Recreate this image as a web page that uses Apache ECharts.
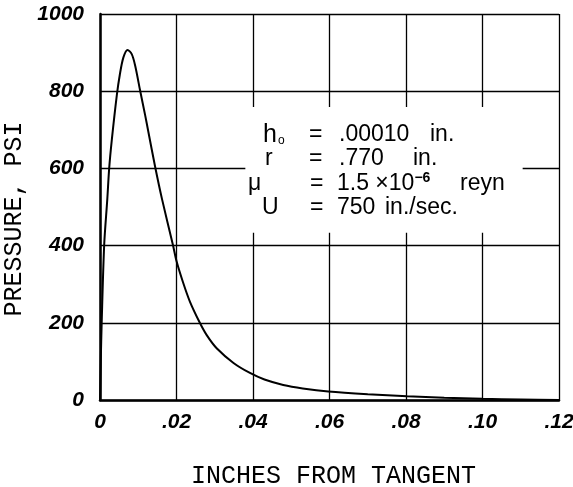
<!DOCTYPE html>
<html>
<head>
<meta charset="utf-8">
<script src="https://cdn.jsdelivr.net/npm/echarts@6/dist/echarts.min.js"></script>
<style>
html,body{margin:0;padding:0;background:#fff;}
#chart{width:573px;height:487px;}
</style>
</head>
<body>
<div id="chart"></div>
<script>
// Distance from tangent (inches)
var inches = [0, 0.0002, 0.00044, 0.0011, 0.0019, 0.0024, 0.0031, 0.0044, 0.0052, 0.0061, 0.0072,
  0.0083, 0.0092, 0.0105, 0.0118, 0.0126, 0.0144, 0.0162, 0.0191, 0.0200, 0.0217, 0.0235,
  0.0261, 0.0279, 0.0305, 0.0349, 0.0392, 0.0430, 0.0479, 0.0530, 0.0597, 0.0700, 0.0803,
  0.0900, 0.1000, 0.1100, 0.1200];
// Pressure (psi)
var pressure = [0, 100, 200, 403, 519, 600, 675, 790, 844, 887, 907,
  896, 866, 801, 738, 697, 605, 521, 400, 360, 305, 255,
  200, 168, 134, 96, 70, 53, 39, 30, 22, 15, 10,
  6, 3, 1.5, 0];
var xTicks = [0, 0.02, 0.04, 0.06, 0.08, 0.10, 0.12];
var yTicks = [0, 200, 400, 600, 800, 1000];
var xTitle = 'INCHES FROM TANGENT';
var yTitle = 'PRESSURE, PSI';
// annotation rows: symbol, value, unit
var noteSymbols = ['{v|h}{s|o}', 'r', '\u03bc', 'U'];
var noteValues = ['.00010', '.770', '1.5 \u00d710{sup|\u22126}', '750'];
var noteUnits = ['in.', 'in.', 'reyn', 'in./sec.'];

var chart = echarts.init(document.getElementById('chart'), null, {renderer: 'canvas'});
var data = inches.map(function (x, i) { return [x, pressure[i]]; });
var tickFont = {color: '#000', fontFamily: 'Liberation Sans', fontStyle: 'italic', fontWeight: 'bold', fontSize: 21};

var rowY = [135, 159, 184, 208];
var symX = [263, 265, 248, 262];
var eqX = [309, 309, 310, 310];
var valX = [339, 339, 337, 337];
var unitX = [430, 413, 460, 385];
var graphics = [];
var baseStyle = function (text, extra) {
  var s = {text: text, fill: '#000', font: '23px "Liberation Sans"', verticalAlign: 'middle', align: 'left'};
  if (extra) for (var k in extra) s[k] = extra[k];
  return s;
};
for (var i = 0; i < 4; i++) {
  graphics.push({type: 'text', x: symX[i], y: rowY[i], z: 20,
    style: baseStyle(noteSymbols[i], {rich: {
      v: {fontSize: 25, fontFamily: 'Liberation Sans'},
      s: {fontSize: 12, fontFamily: 'Liberation Sans', padding: [12, 0, 0, 1]}}})});
  graphics.push({type: 'text', x: eqX[i], y: rowY[i], z: 20, style: baseStyle('=')});
  graphics.push({type: 'text', x: valX[i], y: rowY[i], z: 20,
    style: baseStyle(noteValues[i], {rich: {
      sup: {fontSize: 14, fontWeight: 'bold', fontFamily: 'Liberation Sans', padding: [0, 0, 12, 0]}}})});
  graphics.push({type: 'text', x: unitX[i], y: rowY[i], z: 20, style: baseStyle(noteUnits[i])});
}

chart.setOption({
  backgroundColor: '#fff',
  animation: false,
  grid: {left: 100, right: 14, top: 14, bottom: 87, containLabel: false, outerBoundsMode: 'none'},
  xAxis: {
    type: 'value', min: 0, max: 0.12, interval: 0.02,
    name: xTitle, nameLocation: 'middle', nameGap: 64,
    nameTextStyle: {color: '#000', fontFamily: 'Liberation Mono', fontSize: 25, padding: [0, 0, 0, 8]},
    axisLine: {show: true, onZero: false, lineStyle: {color: '#000', width: 2.5}},
    axisTick: {show: false},
    splitLine: {show: true, lineStyle: {color: '#000', width: 1.3}},
    axisLabel: Object.assign({margin: 12, formatter: function (v) {
      if (Math.abs(v) < 1e-9) return '0';
      return v.toFixed(2).replace(/^0/, '');
    }}, tickFont)
  },
  yAxis: {
    type: 'value', min: 0, max: 1000, interval: 200,
    name: yTitle, nameLocation: 'middle', nameGap: 70, nameRotate: 90,
    nameTextStyle: {color: '#000', fontFamily: 'Liberation Mono', fontSize: 25, padding: [0, 24, 0, 0]},
    axisLine: {show: true, onZero: false, lineStyle: {color: '#000', width: 2.5}},
    axisTick: {show: false},
    splitLine: {show: true, lineStyle: {color: '#000', width: 1.3}},
    axisLabel: Object.assign({margin: 16, formatter: function (v) { return String(v); }}, tickFont)
  },
  series: [{
    type: 'line',
    data: data,
    showSymbol: false,
    smooth: 0.3,
    lineStyle: {color: '#000', width: 2},
    markArea: {
      silent: true,
      itemStyle: {color: '#fff', opacity: 1},
      data: [[{coord: [0.038, 759]}, {coord: [0.1105, 433]}]]
    },
    z: 3
  }],
  graphic: graphics
});
</script>
</body>
</html>
